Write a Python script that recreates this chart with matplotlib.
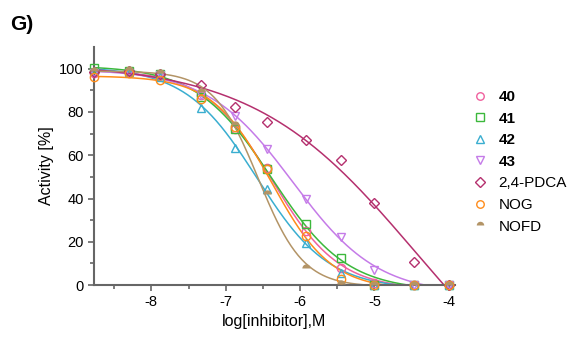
import numpy as np
import matplotlib
import matplotlib.pyplot as plt

plt.switch_backend('Agg')
plt.rcParams['font.family'] = ['Liberation Sans', 'DejaVu Sans']
plt.rcParams['axes.unicode_minus'] = False

# Data (log concentration, % activity)
log_conc = [-8.77, -8.3, -7.88, -7.33, -6.88, -6.45, -5.92, -5.45, -5.0, -4.47, -4.0]
act_40 = [98, 99, 97, 88, 72, 54, 25, 8, 1, 0, 0]
act_41 = [100.5, 99, 97.5, 87, 72, 53.5, 28, 12.5, 0, 0, 0]
act_42 = [99, 98.5, 96, 82, 63.5, 44.5, 19.5, 5.5, 0, 0, 0]
act_43 = [98, 98, 97, 88, 78, 63, 40, 22, 7, 0, 0]
act_pdca = [98.5, 99, 97.5, 92.5, 82.5, 75.5, 67, 58, 38, 10.5, 0]
act_nog = [96, 98, 95, 86, 73, 53.5, 22.5, 3, 0, 0, 0]
act_nofd = [99, 99.5, 98, 89, 74, 42, 8, 0.5, 0, 0, 0]

labels = ['40', '41', '42', '43', '2,4-PDCA', 'NOG', 'NOFD']
series = [act_40, act_41, act_42, act_43, act_pdca, act_nog, act_nofd]
colors = ['#f0609e', '#3cb83c', '#3aaed0', '#c57be8', '#b5306e', '#ff8c1a', '#b39466']
markers = ['o', 's', '^', 'v', 'D', 'o', 'o']


def fit_hill(x, y):
    # 4-parameter logistic: grid over IC50/slope, linear solve for top/bottom
    x = np.asarray(x)
    y = np.asarray(y, dtype=float)
    ic = np.linspace(-8.5, -3.0, 276)
    hs = np.linspace(0.3, 3.0, 136)
    IC, H = np.meshgrid(ic, hs, indexing='ij')
    s = 1.0 / (1.0 + 10 ** ((x[None, None, :] - IC[..., None]) * H[..., None]))
    a = 1.0 - s
    aa = (a * a).sum(-1)
    ss = (s * s).sum(-1)
    as_ = (a * s).sum(-1)
    ay = (a * y).sum(-1)
    sy = (s * y).sum(-1)
    det = aa * ss - as_ ** 2
    bot = (ss * ay - as_ * sy) / det
    top = (aa * sy - as_ * ay) / det
    pred = bot[..., None] * a + top[..., None] * s
    err = ((pred - y) ** 2).sum(-1)
    i, j = np.unravel_index(np.argmin(err), err.shape)
    return IC[i, j], H[i, j], bot[i, j], top[i, j]


fig = plt.figure(figsize=(5.67, 3.41), dpi=100)
ax = fig.add_axes([0.166, 0.164, 0.636, 0.698])

xs = np.linspace(-8.77, -4.0, 300)
handles = []
for lab, y, col, mk in zip(labels, series, colors, markers):
    ic50, hill, bot, top = fit_hill(log_conc, y)
    yc = bot + (top - bot) / (1.0 + 10 ** ((xs - ic50) * hill))
    ax.plot(xs, np.clip(yc, 0, None), color=col, lw=1.1, zorder=2)
    if lab == 'NOFD':
        h, = ax.plot(log_conc, y, ls='none', marker=mk, ms=6, fillstyle='top',
                     markerfacecolor=col, markerfacecoloralt='none', mew=0,
                     zorder=3, clip_on=False)
    else:
        h, = ax.plot(log_conc, y, ls='none', marker=mk, ms=6 if mk != 'D' else 5.5,
                     markerfacecolor='none', markeredgecolor=col, mew=1.0,
                     zorder=3, clip_on=False)
    handles.append(h)

ax.set_xlim(-8.77, -3.92)
ax.set_ylim(0, 110)
ax.set_xticks([-8, -7, -6, -5, -4])
ax.set_xticks([-8.5, -7.5, -6.5, -5.5, -4.5], minor=True)
ax.set_yticks([0, 20, 40, 60, 80, 100])
ax.set_yticks([10, 30, 50, 70, 90], minor=True)

for side in ['top', 'right']:
    ax.spines[side].set_visible(False)
for side in ['left', 'bottom']:
    ax.spines[side].set_color('#666666')
    ax.spines[side].set_linewidth(1.5)
ax.tick_params(which='both', colors='#666666', labelcolor='black', labelsize=10.5, width=1.2)
ax.tick_params(which='major', length=4)
ax.tick_params(which='minor', length=3)

ax.set_xlabel('log[inhibitor],M', fontsize=11.5, labelpad=3)
ax.set_ylabel('Activity [%]', fontsize=11.5, labelpad=4)

leg = ax.legend(handles, labels, loc='upper left', bbox_to_anchor=(1.02, 0.865),
                frameon=False, fontsize=11, handlelength=1.0, handletextpad=0.7,
                labelspacing=0.5, markerscale=0.9, borderaxespad=0.3)
for t in leg.get_texts()[:4]:
    t.set_fontweight('bold')

fig.text(0.018, 0.955, 'G)', fontsize=15, fontweight='bold', va='top')

fig.savefig('out.png', dpi=100)
